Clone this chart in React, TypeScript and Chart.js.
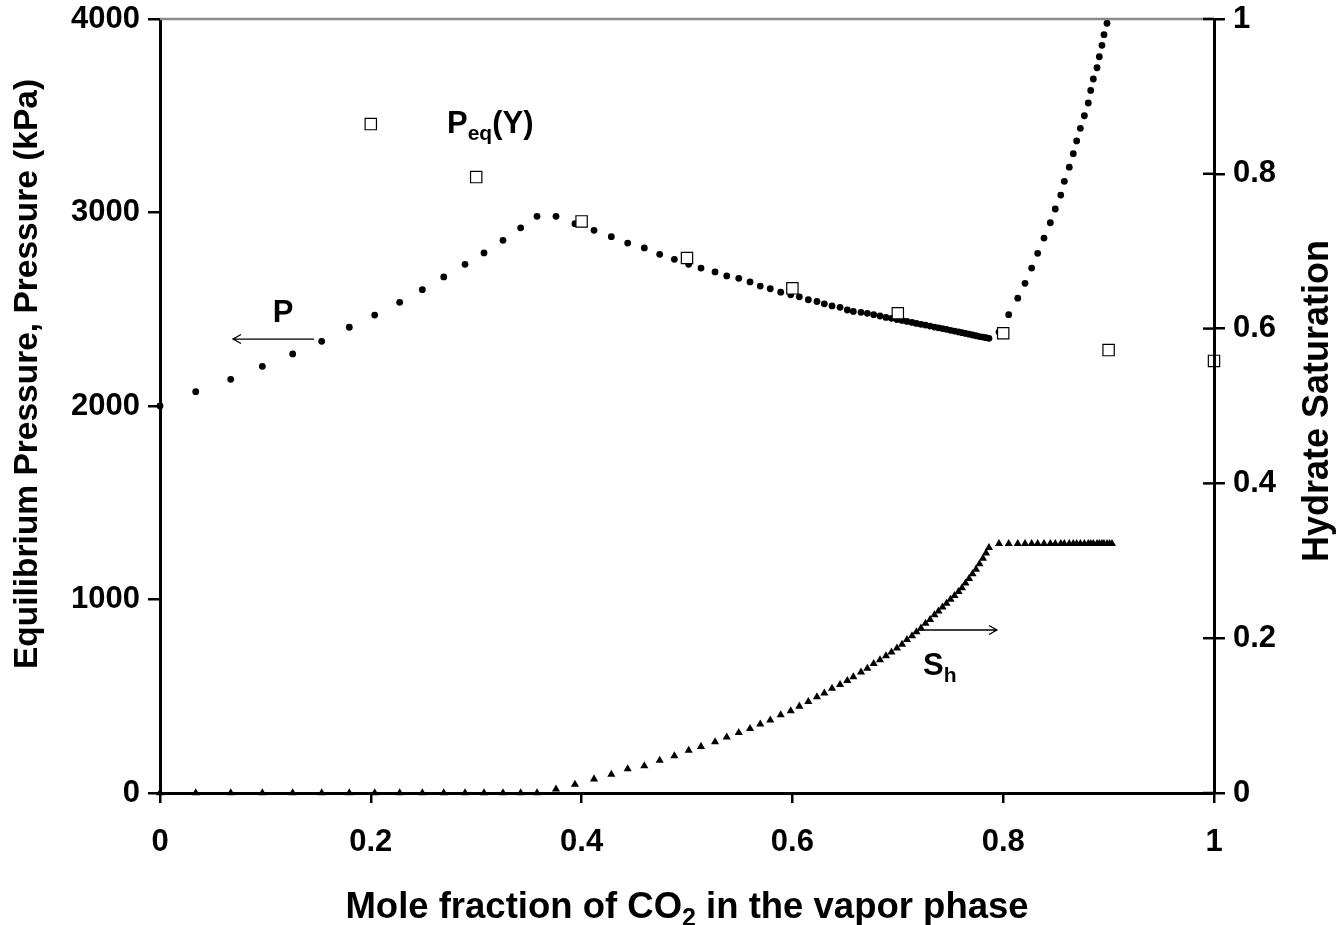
import React, { useEffect, useRef } from 'react';
import { Chart, registerables } from 'chart.js';

Chart.register(...registerables);

// Shared mole-fraction grid of the simulation (rising part)
const X_MAIN = [
  0, 0.0339, 0.0671, 0.0971, 0.1259, 0.1534, 0.1796, 0.2037, 0.2274, 0.2489,
  0.2692, 0.2894, 0.3074, 0.3254, 0.3422, 0.3577, 0.3757, 0.3937, 0.4118, 0.4282,
  0.4437, 0.4595, 0.4741, 0.488, 0.5016, 0.5133, 0.5266, 0.5377, 0.5491, 0.5598,
  0.5695, 0.579, 0.5889, 0.5984, 0.6066, 0.6151, 0.6233, 0.6303, 0.6376, 0.6452,
  0.6521, 0.6578, 0.6651, 0.6711, 0.6771, 0.6831, 0.6888, 0.694, 0.6992, 0.704,
  0.7087, 0.7135, 0.7177, 0.722, 0.7263, 0.7306, 0.7348, 0.7386, 0.7424, 0.7462,
  0.75, 0.7538, 0.7576, 0.7609, 0.7642, 0.7676, 0.7709, 0.7742, 0.7775, 0.7808,
  0.7837, 0.7865,
];
const P_MAIN = [
  2000, 2074, 2138, 2205, 2269, 2334, 2407, 2470, 2536, 2601,
  2667, 2732, 2791, 2856, 2921, 2980, 2980, 2942, 2908, 2875,
  2842, 2817, 2784, 2758, 2732, 2713, 2693, 2672, 2660, 2641,
  2620, 2606, 2588, 2575, 2564, 2549, 2540, 2528, 2517, 2510,
  2496, 2489, 2484, 2479, 2472, 2465, 2458, 2453, 2447, 2442,
  2437, 2432, 2427, 2422, 2418, 2413, 2408, 2404, 2400, 2396,
  2391, 2387, 2383, 2379, 2375, 2371, 2367, 2363, 2359, 2356,
  2353, 2350,
];
const SH_MAIN = [
  0, 0, 0, 0, 0, 0, 0, 0, 0, 0,
  0, 0, 0, 0, 0, 0, 0.005, 0.011, 0.018, 0.024,
  0.031, 0.035, 0.042, 0.048, 0.055, 0.06, 0.066, 0.072, 0.078, 0.083,
  0.089, 0.094, 0.101, 0.106, 0.112, 0.118, 0.124, 0.129, 0.135, 0.14,
  0.145, 0.15, 0.156, 0.161, 0.167, 0.172, 0.177, 0.182, 0.187, 0.192,
  0.198, 0.203, 0.208, 0.213, 0.219, 0.224, 0.23, 0.235, 0.24, 0.245,
  0.25, 0.255, 0.26, 0.265, 0.271, 0.277, 0.283, 0.289, 0.296, 0.303,
  0.31, 0.317,
];
// After hydrate formation stops
const X_LATE = [
  0.796, 0.8052, 0.8138, 0.8207, 0.827, 0.8327, 0.8387, 0.8447, 0.8494, 0.8546,
  0.858, 0.8627, 0.8665, 0.8697, 0.8732, 0.877, 0.8807, 0.883, 0.8855, 0.889,
  0.8912, 0.8937, 0.8956, 0.8985, 0.9009, 0.9032,
];
const P_LATE = [
  2382, 2472, 2557, 2634, 2713, 2789, 2868, 2947, 3018, 3090,
  3161, 3234, 3304, 3370, 3435, 3500, 3566, 3631, 3690, 3748,
  3805, 3864, 3919, 3978, 4035, 4095,
];
const SH_LATE = [
  0.322, 0.322, 0.322, 0.322, 0.322, 0.322, 0.322, 0.322, 0.322, 0.322,
  0.322, 0.322, 0.322, 0.322, 0.322, 0.322, 0.322, 0.322, 0.322, 0.322,
  0.322, 0.322, 0.322, 0.322, 0.322, 0.322,
];
// Equilibrium pressure Peq(Y)
const PEQ_X = [0.2, 0.3, 0.4, 0.5, 0.6, 0.7, 0.8, 0.9, 1.0];
const PEQ_P = [3457, 3183, 2954, 2765, 2608, 2479, 2376, 2289, 2233];

const X_TICKS = [0, 0.2, 0.4, 0.6, 0.8, 1];
const P_TICKS = [0, 1000, 2000, 3000, 4000];
const SH_TICKS = [0, 0.2, 0.4, 0.6, 0.8, 1];

const FONT = '"Liberation Sans", Arial, sans-serif';

const fmt = (v: number) => (v === 0 ? '0' : v === 1 ? '1' : v.toFixed(1));

function drawArrow(ctx: CanvasRenderingContext2D, x1: number, y: number, x2: number) {
  const dir = x2 > x1 ? 1 : -1;
  ctx.save();
  ctx.strokeStyle = '#000';
  ctx.lineWidth = 1.3;
  ctx.beginPath();
  ctx.moveTo(x1, y);
  ctx.lineTo(x2, y);
  ctx.moveTo(x2 - dir * 8, y - 4.5);
  ctx.lineTo(x2, y);
  ctx.lineTo(x2 - dir * 8, y + 4.5);
  ctx.stroke();
  ctx.restore();
}

function subText(ctx: CanvasRenderingContext2D, parts: [string, boolean][], x: number, y: number, big: number, small: number, center: boolean) {
  let total = 0;
  parts.forEach(([t, sub]) => {
    ctx.font = `bold ${sub ? small : big}px ${FONT}`;
    total += ctx.measureText(t).width;
  });
  let cx = center ? x - total / 2 : x;
  ctx.textAlign = 'left';
  ctx.textBaseline = 'alphabetic';
  parts.forEach(([t, sub]) => {
    ctx.font = `bold ${sub ? small : big}px ${FONT}`;
    ctx.fillText(t, cx, sub ? y + big * 0.22 : y);
    cx += ctx.measureText(t).width;
  });
}

const decorPlugin = {
  id: 'decor',
  afterDraw(chart: any) {
    const { ctx, chartArea, scales } = chart;
    const x = scales.x;
    const y = scales.y;
    const y2 = scales.y2;
    ctx.save();
    // top frame line
    ctx.strokeStyle = '#8a8a8a';
    ctx.lineWidth = 2.5;
    ctx.beginPath();
    ctx.moveTo(chartArea.left, chartArea.top);
    ctx.lineTo(chartArea.right, chartArea.top);
    ctx.stroke();
    // inner ticks of right axis
    ctx.strokeStyle = '#000';
    ctx.lineWidth = 2.5;
    SH_TICKS.forEach((v) => {
      const py = y2.getPixelForValue(v);
      ctx.beginPath();
      ctx.moveTo(chartArea.right - 11, py);
      ctx.lineTo(chartArea.right, py);
      ctx.stroke();
    });

    ctx.fillStyle = '#000';
    // Axis titles
    ctx.textBaseline = 'middle';
    ctx.textAlign = 'center';
    ctx.save();
    ctx.font = `bold 33.5px ${FONT}`;
    ctx.translate(28, 374);
    ctx.rotate(-Math.PI / 2);
    ctx.fillText('Equilibrium Pressure, Pressure (kPa)', 0, 0);
    ctx.restore();
    ctx.save();
    ctx.font = `bold 36px ${FONT}`;
    ctx.translate(1318, 401);
    ctx.rotate(-Math.PI / 2);
    ctx.fillText('Hydrate Saturation', 0, 0);
    ctx.restore();

    // X title with subscript
    subText(ctx, [['Mole fraction of CO', false], ['2', true], [' in the vapor phase', false]],
      (chartArea.left + chartArea.right) / 2, 918, 36.5, 25, true);

    // Annotation "P" with arrow
    ctx.font = `bold 31px ${FONT}`;
    ctx.textAlign = 'center';
    ctx.textBaseline = 'alphabetic';
    ctx.fillText('P', x.getPixelForValue(0.1167), y.getPixelForValue(2434));
    drawArrow(ctx, x.getPixelForValue(0.1461), y.getPixelForValue(2346), x.getPixelForValue(0.0693));

    // Annotation Peq(Y)
    subText(ctx, [['P', false], ['eq', true], ['(Y)', false]],
      x.getPixelForValue(0.2723), y.getPixelForValue(3410), 31, 21, false);

    // Annotation Sh with arrow
    drawArrow(ctx, x.getPixelForValue(0.7192), y2.getPixelForValue(0.2106), x.getPixelForValue(0.7941));
    subText(ctx, [['S', false], ['h', true]],
      x.getPixelForValue(0.724), y2.getPixelForValue(0.152), 31, 21, false);
    ctx.restore();
  },
};

export default function App() {
  const ref = useRef<HTMLCanvasElement | null>(null);

  useEffect(() => {
    if (!ref.current) return;
    const xs = X_MAIN.concat(X_LATE);
    const ps = P_MAIN.concat(P_LATE);
    const shs = SH_MAIN.concat(SH_LATE);
    const tickFont = { family: FONT, size: 31, weight: 'bold' as const };
    const clip = { left: 10, top: 0, right: 10, bottom: 10 };

    const chart = new Chart(ref.current, {
      type: 'scatter',
      data: {
        datasets: [
          {
            label: 'Peq(Y)',
            data: PEQ_X.map((v, i) => ({ x: v, y: PEQ_P[i] })),
            yAxisID: 'y',
            pointStyle: 'rect',
            pointRadius: 8,
            borderWidth: 1.2,
            borderColor: '#000',
            backgroundColor: '#fff',
            clip,
          },
          {
            label: 'P',
            data: xs.map((v, i) => ({ x: v, y: ps[i] })),
            yAxisID: 'y',
            pointStyle: 'circle',
            pointRadius: 3.4,
            borderWidth: 0,
            backgroundColor: '#000',
            borderColor: '#000',
            clip,
          },
          {
            label: 'Sh',
            data: xs.map((v, i) => ({ x: v, y: shs[i] })),
            yAxisID: 'y2',
            pointStyle: 'triangle',
            pointRadius: 4.7,
            borderWidth: 0,
            backgroundColor: '#000',
            borderColor: '#000',
            clip,
          },
        ],
      },
      options: {
        responsive: false,
        animation: false,
        events: [],
        layout: { padding: { top: 19, left: 0, right: 0, bottom: 0 } },
        plugins: {
          legend: { display: false },
          tooltip: { enabled: false },
          title: { display: false },
        },
        scales: {
          x: {
            type: 'linear',
            min: 0,
            max: 1,
            afterBuildTicks: (s: any) => {
              s.ticks = X_TICKS.map((v) => ({ value: v }));
            },
            afterFit: (s: any) => {
              s.height = 132;
              s.paddingLeft = 0;
              s.paddingRight = 0;
            },
            ticks: {
              color: '#000',
              font: tickFont,
              padding: 21,
              maxRotation: 0,
              callback: (v: any) => fmt(Number(v)),
            },
            grid: { drawOnChartArea: false, drawTicks: true, tickLength: 10, color: '#000', lineWidth: 2.5 },
            border: { display: true, color: '#000', width: 3, z: 1 },
          },
          y: {
            type: 'linear',
            position: 'left',
            min: 0,
            max: 4000,
            afterBuildTicks: (s: any) => {
              s.ticks = P_TICKS.map((v) => ({ value: v }));
            },
            afterFit: (s: any) => {
              s.width = 160;
              s.paddingTop = 0;
              s.paddingBottom = 0;
            },
            ticks: {
              color: '#000',
              font: tickFont,
              padding: 8,
              callback: (v: any) => String(v),
            },
            grid: { drawOnChartArea: false, drawTicks: true, tickLength: 12, color: '#000', lineWidth: 2.5 },
            border: { display: true, color: '#000', width: 3, z: 1 },
          },
          y2: {
            type: 'linear',
            position: 'right',
            min: 0,
            max: 1,
            afterBuildTicks: (s: any) => {
              s.ticks = SH_TICKS.map((v) => ({ value: v }));
            },
            afterFit: (s: any) => {
              s.width = 127;
              s.paddingTop = 0;
              s.paddingBottom = 0;
            },
            ticks: {
              color: '#000',
              font: tickFont,
              padding: 8,
              callback: (v: any) => fmt(Number(v)),
            },
            grid: { drawOnChartArea: false, drawTicks: true, tickLength: 11, color: '#000', lineWidth: 2.5 },
            border: { display: true, color: '#000', width: 3, z: 1 },
          },
        },
      },
      plugins: [decorPlugin],
    });
    return () => chart.destroy();
  }, []);

  return (
    <div style={{ position: 'absolute', left: 0, top: 0, width: 1341, height: 925, background: '#fff' }}>
      <canvas ref={ref} width={1341} height={925} style={{ display: 'block', width: 1341, height: 925 }} />
    </div>
  );
}
